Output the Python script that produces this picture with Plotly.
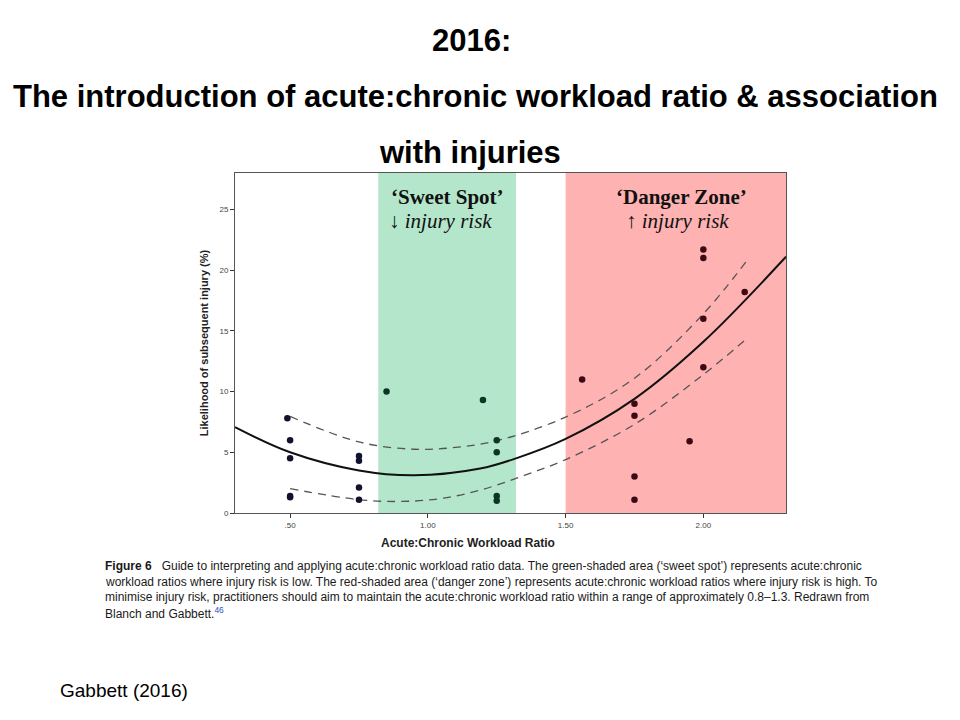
import plotly.graph_objects as go

# ---- data ----
pts_x = [0.49, 0.50, 0.50, 0.50, 0.50, 0.75, 0.75, 0.75, 0.75,
         0.85, 1.20, 1.25, 1.25, 1.25, 1.25,
         1.56, 1.75, 1.75, 1.75, 1.75, 1.95, 2.00, 2.00, 2.00, 2.00, 2.15]
pts_y = [7.8, 6.0, 4.5, 1.4, 1.3, 4.7, 4.3, 2.1, 1.1,
         10.0, 9.3, 6.0, 5.0, 1.4, 1.0,
         11.0, 9.0, 8.0, 3.0, 1.1, 5.9, 21.7, 21.0, 16.0, 12.0, 18.2]

fit_x = [0.30, 0.50, 0.75, 0.95, 1.19, 1.32, 1.50, 1.75, 2.00, 2.30]
fit_y = [7.07, 5.0, 3.5, 3.1, 3.66, 4.5, 6.1, 9.4, 14.1, 21.1]

upper_x = [0.50, 0.75, 0.95, 1.10, 1.25, 1.50, 1.75, 2.00, 2.155]
upper_y = [7.95, 5.85, 5.25, 5.4, 5.95, 7.9, 11.1, 16.4, 20.7]

lower_x = [0.50, 0.75, 0.90, 1.05, 1.20, 1.35, 1.50, 1.75, 2.00, 2.155]
lower_y = [2.0, 1.1, 0.95, 1.2, 1.95, 3.1, 4.4, 7.3, 11.4, 14.3]

sweet_spot = [0.82, 1.32]
danger_zone = [1.50, 2.30]

x_ticks = [0.5, 1.0, 1.5, 2.0]
x_tick_labels = [".50", "1.00", "1.50", "2.00"]
y_ticks = [0, 5, 10, 15, 20, 25]

title_lines = [
    "2016:",
    "The introduction of acute:chronic workload ratio &amp; association",
    "with injuries",
]

caption_lines = [
    "<b>Figure 6</b>   Guide to interpreting and applying acute:chronic workload ratio data. The green-shaded area (‘sweet spot’) represents acute:chronic",
    "workload ratios where injury risk is low. The red-shaded area (‘danger zone’) represents acute:chronic workload ratios where injury risk is high. To",
    "minimise injury risk, practitioners should aim to maintain the acute:chronic workload ratio within a range of approximately 0.8–1.3. Redrawn from",
    "Blanch and Gabbett.<sup><span style='color:#3050c0'>46</span></sup>",
]

footer = "Gabbett (2016)"


def point_color(x):
    if sweet_spot[0] <= x <= sweet_spot[1]:
        return "#0d3526"
    if x >= danger_zone[0]:
        return "#3d0a14"
    return "#10122e"


# plot area in window pixels: left 235, right 786, top 173, bottom 513
# (the page adds an 8px body margin, compensated in the figure margins)
OFF = 8
PL, PR, PT, PB = 235, 786, 173, 513


def px(p):
    return (p - PL) / (PR - PL)


def py(p):
    return (PB - p) / (PB - PT)


fig = go.Figure()

fig.add_shape(type="rect", xref="x", yref="paper", x0=sweet_spot[0], x1=sweet_spot[1],
              y0=0, y1=1, fillcolor="#b3e6cb", line_width=0, layer="below")
fig.add_shape(type="rect", xref="x", yref="paper", x0=danger_zone[0], x1=danger_zone[1],
              y0=0, y1=1, fillcolor="#feb2b2", line_width=0, layer="below")

dash_line = dict(color="#555555", width=1.3, dash="8px,6px")
fig.add_trace(go.Scatter(x=upper_x, y=upper_y, mode="lines", line_shape="spline",
                         line=dash_line, hoverinfo="skip", showlegend=False))
fig.add_trace(go.Scatter(x=lower_x, y=lower_y, mode="lines", line_shape="spline",
                         line=dash_line, hoverinfo="skip", showlegend=False))
fig.add_trace(go.Scatter(x=fit_x, y=fit_y, mode="lines", line_shape="spline",
                         line=dict(color="#111111", width=2),
                         hoverinfo="skip", showlegend=False))
fig.add_trace(go.Scatter(x=pts_x, y=pts_y, mode="markers",
                         marker=dict(size=6.5, color=[point_color(v) for v in pts_x]),
                         showlegend=False))

serif = "Liberation Serif, Times New Roman, serif"
sans = "Liberation Sans, Arial, sans-serif"

annos = []


def add_text(text, x, y, xref="paper", yref="paper", xanchor="center", font=None):
    annos.append(dict(x=x, y=y, xref=xref, yref=yref, xanchor=xanchor, yanchor="middle",
                      text=text, showarrow=False, font=font))


zone_font = dict(family=serif, size=21, color="#111111")
add_text("<b>‘Sweet Spot’</b>", 1.07, py(197), xref="x", font=zone_font)
add_text("<i>↓ injury risk</i>", 1.045, py(221), xref="x", font=zone_font)
add_text("<b>‘Danger Zone’</b>", 1.922, py(197), xref="x", font=zone_font)
add_text("<i>↑ injury risk</i>", 1.907, py(221), xref="x", font=zone_font)

title_font = dict(family=sans, size=31, color="#000000")
for text, cx, cy in zip(title_lines, [471, 475, 470], [40, 97, 152]):
    add_text("<b>" + text + "</b>", px(cx), py(cy), font=title_font)

add_text("<b>Acute:Chronic Workload Ratio</b>", px(468), py(543),
         font=dict(family=sans, size=12, color="#222222"))

cap_font = dict(family="Liberation Sans Narrow, Arial Narrow, Liberation Sans, sans-serif",
                size=12, color="#1a1a1a")
for i, line in enumerate(caption_lines):
    add_text(line, px(103), py(566 + 15.7 * i), xanchor="left", font=cap_font)

add_text(footer, px(58), py(690), xanchor="left",
         font=dict(family=sans, size=19, color="#000000"))

fig.update_layout(
    width=960, height=720,
    margin=dict(l=PL - OFF, r=960 - PR + OFF, t=PT - OFF, b=720 - PB + OFF),
    paper_bgcolor="white", plot_bgcolor="white",
    font=dict(family=sans, color="#222222"),
    xaxis=dict(range=[0.3, 2.3], tickvals=x_ticks, ticktext=x_tick_labels,
               showgrid=False, zeroline=False, showline=True, mirror=True,
               linecolor="#555555", linewidth=1, ticks="outside", ticklen=4,
               tickcolor="#333333", tickfont=dict(size=8, color="#444444")),
    yaxis=dict(range=[0, 28], tickvals=y_ticks, showgrid=False, zeroline=False,
               showline=True, mirror=True, linecolor="#555555", linewidth=1,
               ticks="outside", ticklen=4, tickcolor="#333333",
               tickfont=dict(size=8, color="#444444"),
               title=dict(text="<b>Likelihood of subsequent injury (%)</b>",
                          font=dict(size=11, color="#222222"), standoff=8)),
    showlegend=False,
    annotations=annos,
)

fig.write_html("out.html")
